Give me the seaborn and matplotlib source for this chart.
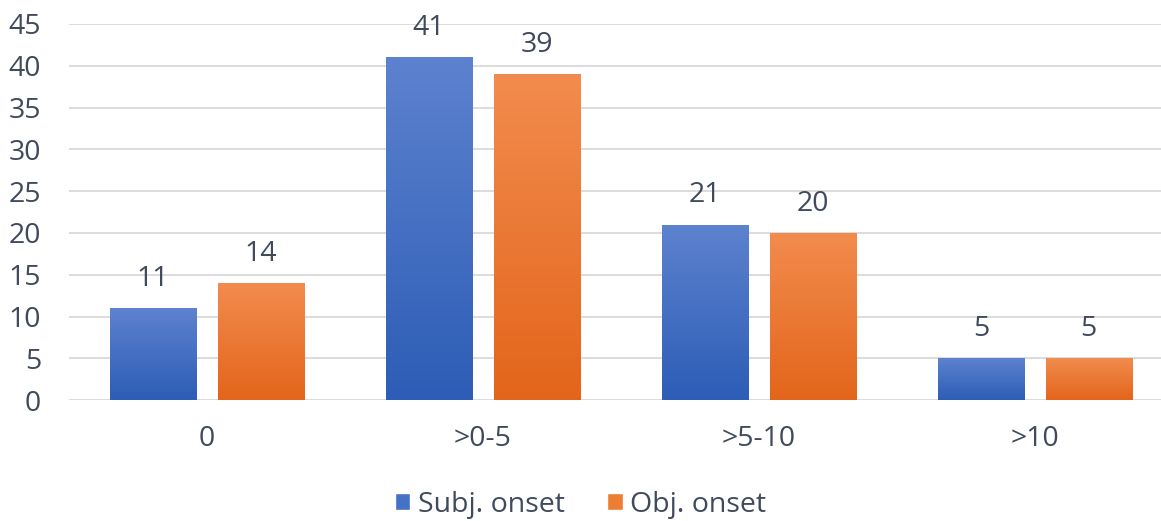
import numpy as np
import pandas as pd
import matplotlib.pyplot as plt
import seaborn as sns
from matplotlib.colors import LinearSegmentedColormap
from matplotlib.patches import Patch

# data
categories = ['0', '>0-5', '>5-10', '>10']
series = ['Subj. onset', 'Obj. onset']
subj_onset = [11, 41, 21, 5]
obj_onset = [14, 39, 20, 5]

df = pd.DataFrame({
    'range': categories * 2,
    'onset': [series[0]] * 4 + [series[1]] * 4,
    'count': subj_onset + obj_onset,
})

sns.set_theme(style="white")
plt.rcParams['font.family'] = ['Open Sans', 'DejaVu Sans']
text_col = '#404a5c'
fs = 20.5

blue_top, blue_bot = '#5d82cf', '#2d5db6'
orange_top, orange_bot = '#f28c4e', '#e3651b'

fig = plt.figure(figsize=(11.61, 5.21), dpi=100)
ax = fig.add_axes([0.0594, 0.232, 0.9406, 0.722])

sns.barplot(data=df, x='range', y='count', hue='onset', order=categories,
            hue_order=series, palette=['#4472c4', '#ed7d31'],
            width=0.78, gap=0.2, legend=False, ax=ax)

# value labels
for cont in ax.containers:
    ax.bar_label(cont, padding=11, fontsize=fs, color=text_col)

# vertical gradient on each bar
grads = {0: (blue_top, blue_bot), 1: (orange_top, orange_bot)}
for i, cont in enumerate(ax.containers):
    cmap = LinearSegmentedColormap.from_list('g%d' % i, [grads[i][1], grads[i][0]])
    for bar in cont:
        x0, y0 = bar.get_x(), bar.get_y()
        w, h = bar.get_width(), bar.get_height()
        img = ax.imshow(np.linspace(0, 1, 256).reshape(-1, 1), cmap=cmap,
                        origin='lower', aspect='auto',
                        extent=(x0, x0 + w, y0, y0 + h), zorder=2)
        img.set_clip_path(bar)
        bar.set_facecolor('none')
        bar.set_edgecolor('none')

ax.set_xlim(-0.5, 3.457)
ax.set_ylim(0, 45)
ax.set_yticks(range(0, 46, 5))
ax.yaxis.grid(True, color='#d9d9d9', linewidth=1.3)
ax.set_axisbelow(True)
sns.despine(ax=ax, left=True, bottom=True, top=True, right=True)

ax.set_xlabel('')
ax.set_ylabel('')
ax.tick_params(axis='y', labelsize=fs, labelcolor=text_col, pad=20, length=0)
ax.tick_params(axis='x', labelsize=fs, labelcolor=text_col, pad=18, length=0)

handles = [Patch(facecolor='#4472c4'), Patch(facecolor='#ed7d31')]
leg = fig.legend(handles, series, loc='lower center', bbox_to_anchor=(0.5, -0.045),
                 ncol=2, frameon=False, fontsize=fs, handlelength=0.55,
                 handleheight=0.55, handletextpad=0.25, columnspacing=1.5)
for t in leg.get_texts():
    t.set_color(text_col)

plt.savefig('out.png', dpi=100)
